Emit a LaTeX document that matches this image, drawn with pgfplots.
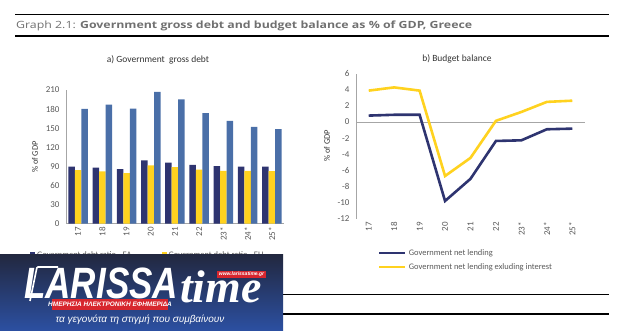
\documentclass[border=0pt]{standalone}
\usepackage{fontspec}
\setmainfont{Carlito}
\newfontfamily\hdrfont{Open Sans}
\newfontfamily\logofont{Liberation Sans}
\newfontfamily\logoserif{Liberation Serif}
\usepackage{graphicx}
\usepackage{pgfplots}
\pgfplotsset{compat=1.18}
\definecolor{ea}{HTML}{2E3470}
\definecolor{eu}{HTML}{FFD21F}
\definecolor{el}{HTML}{4A6FA8}
\definecolor{axgray}{HTML}{A6A6A6}
\definecolor{tickgray}{HTML}{595959}
\definecolor{hdrgray}{HTML}{707070}
\definecolor{logotop}{HTML}{222840}
\definecolor{logobot}{HTML}{2C50A2}
\definecolor{logored}{HTML}{D7262E}
\begin{document}
\begin{tikzpicture}
\useasboundingbox (0,0) rectangle (629bp,331bp);
% header
\draw[line width=1.1bp] (15bp,316.7bp) -- (609bp,316.7bp);
\draw[line width=1.1bp] (15bp,295bp) -- (609bp,295bp);
\node[anchor=base west, inner sep=0, text=hdrgray, font=\hdrfont\fontsize{10}{12}\selectfont] at (16bp,302bp) {\resizebox{456bp}{\height}{Graph 2.1: \textbf{Government gross debt and budget balance as \% of GDP, Greece}}};
% bottom lines
\draw[line width=1.1bp] (15bp,36.7bp) -- (609bp,36.7bp);
\draw[line width=1.1bp] (15bp,17bp) -- (609bp,17bp);
% titles
\node[text=black!80, font=\fontsize{9.5}{11}\selectfont] at (158bp,271bp) {a) Government\ \ gross debt};
\node[text=black!80, font=\fontsize{9.5}{11}\selectfont] at (457bp,272bp) {b) Budget balance};
\node[rotate=90, text=black!80, font=\fontsize{8.5}{10}\selectfont] at (35bp,174bp) {\% of GDP};
\node[rotate=90, text=black!80, font=\fontsize{8.5}{10}\selectfont] at (327bp,185bp) {\% of GDP};

\begin{axis}[
  at={(66bp,107.3bp)}, anchor=south west, scale only axis,
  width=218bp, height=133.7bp,
  ybar=0pt, bar width=6.5bp,
  xmin=-0.5, xmax=8.5, ymin=0, ymax=210,
  xtick={0,...,8}, xticklabels={17,18,19,20,21,22,23*,24*,25*},
  ytick={0,30,...,210},
  axis lines*=left, axis line style={axgray, line width=0.8bp},
  major tick length=0pt,
  tick label style={font=\fontsize{9}{10}\selectfont, text=tickgray},
  xticklabel style={rotate=90, anchor=east},
  yticklabel style={xshift=-3bp},
  /pgf/number format/assume math mode=true,
  legend columns=2,
  legend style={at={(axis description cs:-0.179,-0.174)}, anchor=north west, draw=none, fill=none,
    font=\fontsize{8.5}{10}\selectfont, text=tickgray,
    /tikz/every even column/.append style={column sep=28bp}},
  legend image code/.code={\fill[#1] (0bp,-2.5bp) rectangle (5bp,2.5bp);},
]
\addplot[fill=ea, draw=none] coordinates {(0,89.8) (1,88.0) (2,85.9) (3,99.5) (4,96.0) (5,92.5) (6,90.5) (7,89.6) (8,89.5)};
\addplot[fill=eu, draw=none] coordinates {(0,84.0) (1,82.0) (2,79.5) (3,91.8) (4,89.0) (5,85.0) (6,83.0) (7,83.0) (8,82.6)};
\addplot[fill=el, draw=none] coordinates {(0,180.3) (1,186.9) (2,180.7) (3,207.0) (4,195.2) (5,173.5) (6,161.4) (7,152.0) (8,148.5)};
\legend{Government debt ratio - EA, Government debt ratio - EU, Government debt ratio - EL}
\end{axis}

\begin{axis}[
  at={(356bp,112.3bp)}, anchor=south west, scale only axis,
  width=229bp, height=145bp,
  xmin=-0.5, xmax=8.5, ymin=-12, ymax=6,
  xtick={0,...,8}, xticklabels={17,18,19,20,21,22,23*,24*,25*},
  ytick={-12,-10,...,6},
  axis x line*=bottom, axis y line*=left,
  x axis line style={draw=none},
  y axis line style={axgray, line width=0.8bp},
  extra y ticks={0}, extra y tick labels={},
  extra y tick style={grid=major, major grid style={axgray, line width=0.8bp}},
  major tick length=0pt,
  tick label style={font=\fontsize{9}{10}\selectfont, text=tickgray},
  xticklabel style={rotate=90, anchor=east},
  yticklabel style={xshift=-3bp},
  /pgf/number format/assume math mode=true,
  legend cell align=left,
  legend style={at={(axis description cs:0.083,-0.181)}, anchor=north west, draw=none, fill=none,
    font=\fontsize{8.5}{10}\selectfont, text=tickgray, row sep=3bp},
  legend image code/.code={\draw[#1] (0bp,0bp) -- (26bp,0bp);},
]
\addplot[ea, line width=2.6bp] coordinates {(0,0.8) (1,0.9) (2,0.9) (3,-9.8) (4,-7.05) (5,-2.35) (6,-2.27) (7,-0.9) (8,-0.82)};
\addplot[eu, line width=2.6bp] coordinates {(0,3.9) (1,4.3) (2,3.9) (3,-6.7) (4,-4.45) (5,0.15) (6,1.25) (7,2.5) (8,2.65)};
\legend{Government net lending, Government net lending exluding interest}
\end{axis}

% logo overlay
\shade[top color=logotop, bottom color=logobot] (0,0) rectangle (283bp,76bp);
\draw[white, line width=1.6bp, rounded corners=1bp] (30bp,30bp) -- (37bp,64bp) -- (58bp,64bp);
\node[anchor=base west, inner sep=0, text=white, font=\logofont\bfseries\itshape\fontsize{44}{44}\selectfont] at (24bp,33bp) {\scalebox{0.8}[1]{LARISSA}};
\node[anchor=base west, inner sep=0, text=white, font=\logoserif\bfseries\itshape\fontsize{46}{46}\selectfont] at (180bp,29bp) {time};
\fill[logored] (217bp,53bp) rectangle (266bp,60bp);
\node[text=white, inner sep=0, font=\logofont\bfseries\itshape\fontsize{5}{5}\selectfont] at (241.5bp,56.5bp) {www.larissatime.gr};
\fill[logored] (52bp,21bp) rectangle (168bp,32bp);
\node[text=white, inner sep=0, font=\logofont\bfseries\itshape\fontsize{6.5}{7}\selectfont] at (110bp,26.5bp) {ΗΜΕΡΗΣΙΑ ΗΛΕΚΤΡΟΝΙΚΗ ΕΦΗΜΕΡΙΔΑ};
\node[text=white, inner sep=0, font=\logofont\itshape\fontsize{10}{11}\selectfont] at (140bp,11bp) {τα γεγονότα τη στιγμή που συμβαίνουν};
\end{tikzpicture}
\end{document}
